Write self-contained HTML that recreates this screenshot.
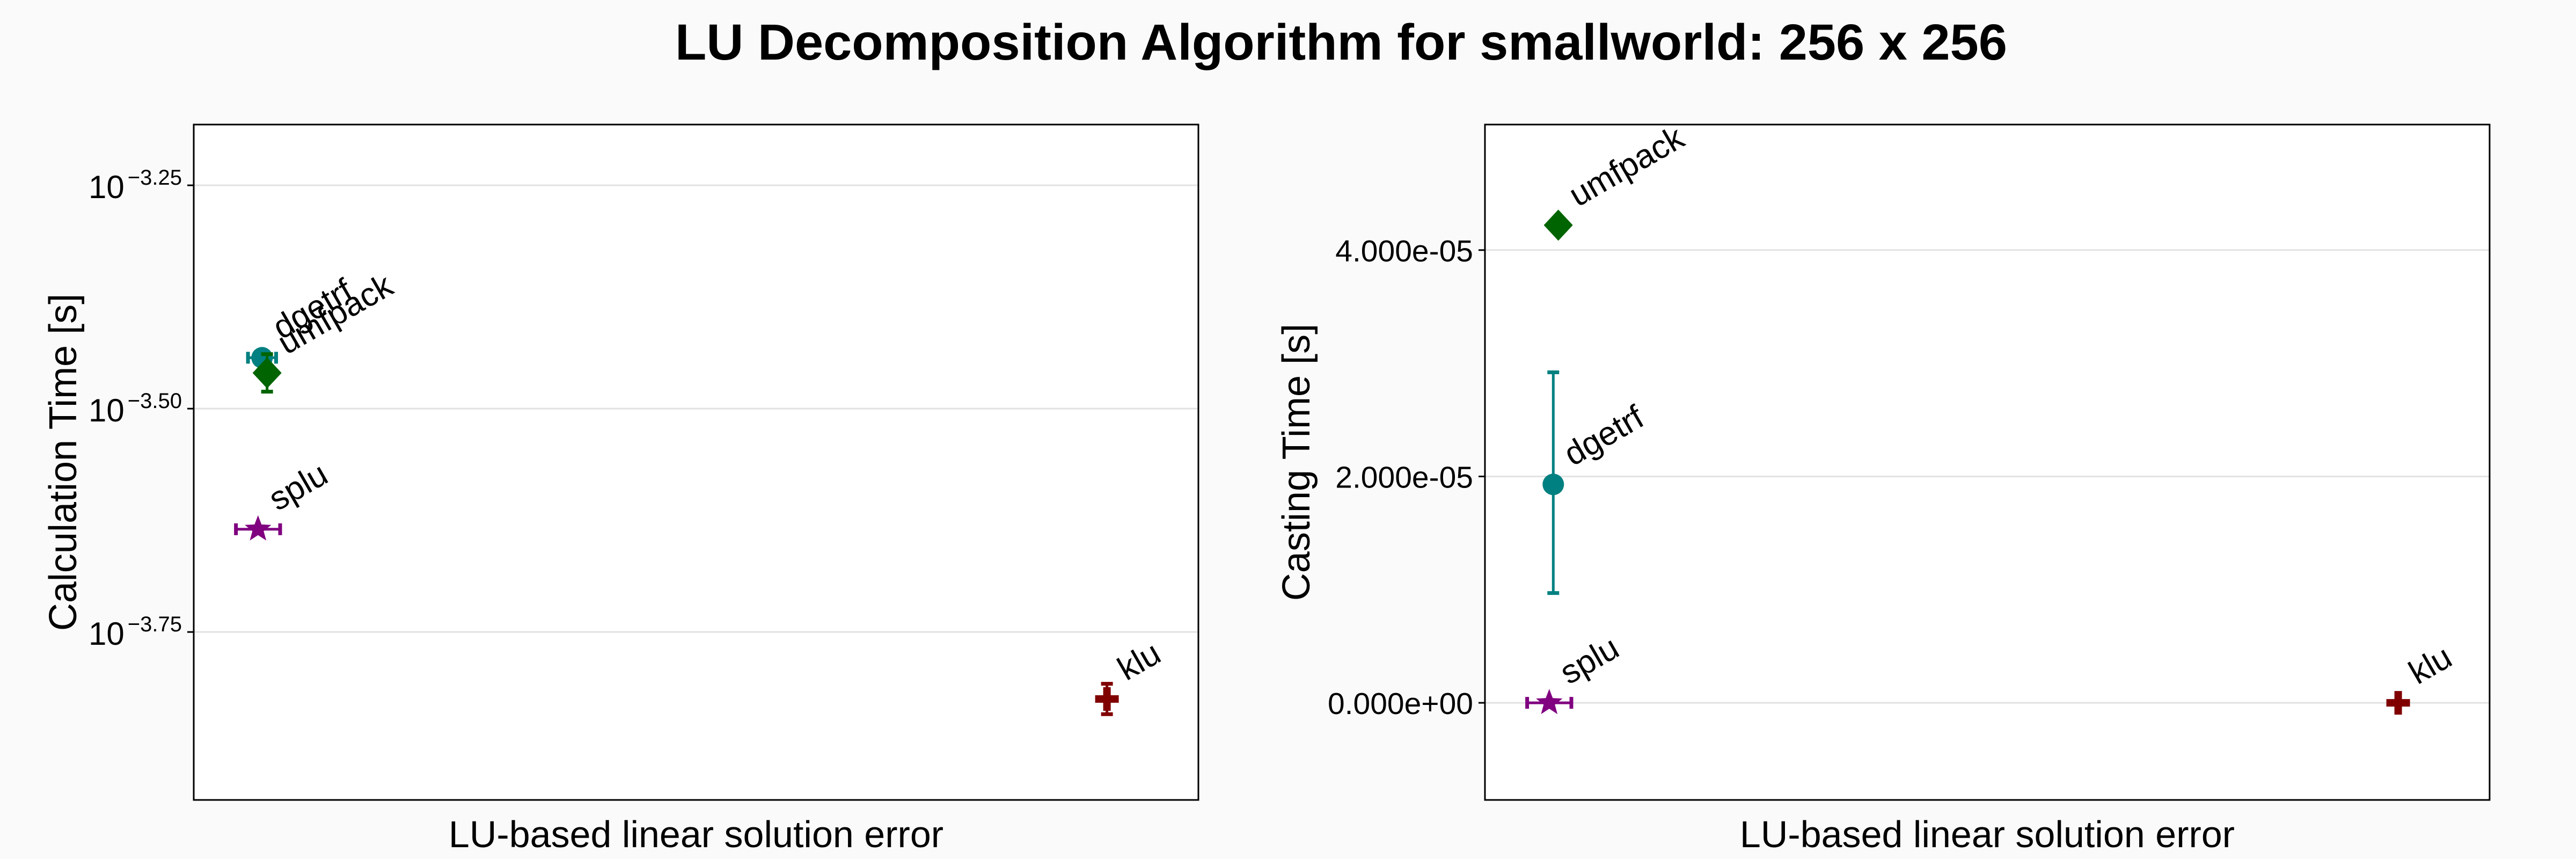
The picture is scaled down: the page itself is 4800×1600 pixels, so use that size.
<!DOCTYPE html>
<html><head><meta charset="utf-8"><style>
html,body{margin:0;padding:0;background:#fafafa;}
svg{display:block;font-family:"Liberation Sans",sans-serif;}
</style></head><body>
<svg id="chart" width="4800" height="1600" viewBox="0 0 4800 1600" xmlns="http://www.w3.org/2000/svg">
<rect x="0" y="0" width="4800" height="1600" fill="#fafafa"/>
<text x="1258" y="111" font-size="95" font-weight="bold" textLength="2482" lengthAdjust="spacingAndGlyphs">LU Decomposition Algorithm for smallworld: 256 x 256</text>
<g id="left"></g>
<g id="right"></g>
</svg>
<script>
// shared data
const algorithms = ["dgetrf", "umfpack", "splu", "klu"];
const errorX = [0.068, 0.073, 0.064, 0.909];
const errorXErrLeft = [0.014, 0, 0.022, 0];
const errorXErrRight = [0.006, 0, 0.022, 0];
// left: log10 calculation time
const calcLog = [-3.443, -3.460, -3.635, -3.825];
const calcLogLo = [-3.443, -3.481, -3.635, -3.842];
const calcLogHi = [-3.443, -3.439, -3.635, -3.808];
const calcTicks = [-3.25, -3.50, -3.75];
const calcTickLabels = ["\u22123.25", "\u22123.50", "\u22123.75"];
// right: casting time
const castVal = [1.93e-5, 4.22e-5, 0, 0];
const castLo = [0.97e-5, 4.22e-5, 0, 0];
const castHi = [2.92e-5, 4.22e-5, 0, 0];
const castTicks = [0, 2e-5, 4e-5];
const castTickLabels = ["0.000e+00", "2.000e-05", "4.000e-05"];

const colors = ["#008080", "#006400", "#800080", "#800000"];
const shapes = ["circle", "diamond", "star", "cross"];
const NS = "http://www.w3.org/2000/svg";
function mk(parent, tag, attrs){const e=document.createElementNS(NS,tag);for(const k in attrs)e.setAttribute(k,attrs[k]);parent.appendChild(e);return e;}

function panel(g, box, yDom, ticks, tickLabels, isLog, vals, lo, hi, xErr, yTitle, titleX){
  const xs = v => box.x0 + v*(box.x1-box.x0);
  const ys = v => box.y1 - (v-yDom[0])/(yDom[1]-yDom[0])*(box.y1-box.y0);
  const bg = mk(g,"rect",{x:box.x0,y:box.y0,width:box.x1-box.x0,height:box.y1-box.y0,fill:"#fff"});
  
  
  ticks.forEach((t,i)=>{
    const y = ys(t);
    const gl = mk(g,"line",{x1:box.x0,x2:box.x1,y1:y,y2:y,stroke:"#e2e2e2","stroke-width":3});
    
    
    const tk = mk(g,"line",{x1:box.x0-12,x2:box.x0,y1:y,y2:y,stroke:"#000","stroke-width":3});
    
    
    if(isLog){
      const tx = mk(g,"text",{x:box.x0-22,y:y+24,"font-size":60,"text-anchor":"end"});
      
      
      const a = mk(tx,"tspan",{});a.textContent="10";
      const b = mk(tx,"tspan",{"font-size":40,dy:-25,dx:6});b.textContent=tickLabels[i];
    } else {
      const tx = mk(g,"text",{x:box.x0-22,y:y+21,"font-size":57,"text-anchor":"end"});
      
      
      tx.textContent = tickLabels[i];
    }
  });
  const border = mk(g,"rect",{x:box.x0,y:box.y0,width:box.x1-box.x0,height:box.y1-box.y0,fill:"none",stroke:"#000","stroke-width":3});
  
  
  const xt = mk(g,"text",{x:(box.x0+box.x1)/2,y:1578,"font-size":70,"text-anchor":"middle"});
  
  
  xt.textContent="LU-based linear solution error";
  const yt = mk(g,"text",{x:titleX,y:(box.y0+box.y1)/2,"font-size":72,"text-anchor":"middle",transform:`rotate(-90 ${titleX} ${(box.y0+box.y1)/2})`});
  
  
  yt.textContent=yTitle;

  algorithms.forEach((name,i)=>{
    const cx = xs(errorX[i]), cy = ys(vals[i]), c = colors[i];
    const grp = mk(g,"g",{});
    
    
    const yLo = ys(lo[i]), yHi = ys(hi[i]);
    if(xErr[i]>0){
      const xl = xs(errorX[i]-xErr[i]), xr = xs(errorX[i]+xErr[i]);
      mk(grp,"line",{x1:xl,x2:xr,y1:cy,y2:cy,stroke:c,"stroke-width":5});
      mk(grp,"line",{x1:xl,x2:xl,y1:cy-11,y2:cy+11,stroke:c,"stroke-width":7});
      mk(grp,"line",{x1:xr,x2:xr,y1:cy-11,y2:cy+11,stroke:c,"stroke-width":7});
    }
    const s = shapes[i];
    if(s==="circle") mk(grp,"circle",{cx:cx,cy:cy,r:20,fill:c});
    else if(s==="diamond") mk(grp,"polygon",{points:`${cx},${cy-29} ${cx+27},${cy} ${cx},${cy+29} ${cx-27},${cy}`,fill:c});
    else if(s==="star"){
      let p=[];for(let k=0;k<10;k++){const r=k%2?11:26;const a=-Math.PI/2+k*Math.PI/5;p.push((cx+r*Math.cos(a)).toFixed(1)+","+(cy+r*Math.sin(a)).toFixed(1));}
      mk(grp,"polygon",{points:p.join(" "),fill:c});
    } else {
      mk(grp,"rect",{x:cx-22,y:cy-7,width:44,height:14,fill:c});
      mk(grp,"rect",{x:cx-7,y:cy-22,width:14,height:44,fill:c});
    }
    if(Math.abs(yLo-yHi)>2){
      mk(grp,"line",{x1:cx,x2:cx,y1:yLo,y2:yHi,stroke:c,"stroke-width":5});
      mk(grp,"line",{x1:cx-11,x2:cx+11,y1:yLo,y2:yLo,stroke:c,"stroke-width":7});
      mk(grp,"line",{x1:cx-11,x2:cx+11,y1:yHi,y2:yHi,stroke:c,"stroke-width":7});
    }
    const lx = cx+36, ly = cy-33;
    const lab = mk(g,"text",{x:lx,y:ly,"font-size":62,transform:`rotate(-30 ${lx} ${ly})`});
    
    
    lab.textContent=name;
  });
}

panel(document.getElementById("left"), {x0:361,x1:2233,y0:232,y1:1490}, [-3.938,-3.182],
  calcTicks, calcTickLabels, true, calcLog, calcLogLo, calcLogHi, errorXErrLeft, "Calculation Time [s]", 142);
panel(document.getElementById("right"), {x0:2767,x1:4639,y0:232,y1:1490}, [-0.858e-5,5.109e-5],
  castTicks, castTickLabels, false, castVal, castLo, castHi, errorXErrRight, "Casting Time [s]", 2440);
</script>
</body></html>
